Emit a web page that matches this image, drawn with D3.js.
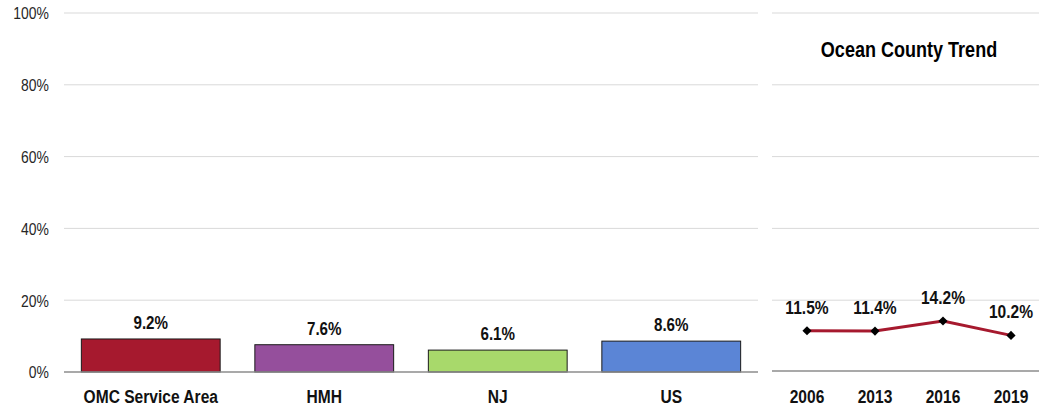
<!DOCTYPE html>
<html><head><meta charset="utf-8">
<script src="https://cdn.jsdelivr.net/npm/d3@7"></script>
<style>
body{margin:0;background:#fff;}
text{font-family:"Liberation Sans",Arial,sans-serif;}
</style></head>
<body><svg id="c" width="1039" height="408"></svg>
<script>
const categories = ["OMC Service Area","HMH","NJ","US"];
const values = [9.2, 7.6, 6.1, 8.6];
const barColors = ["#A6192E","#954F9C","#A8D96B","#5B85D6"];
const years = ["2006","2013","2016","2019"];
const trend = [11.5, 11.4, 14.2, 10.2];
const yTicks = [0,20,40,60,80,100];
const trendTitle = "Ocean County Trend";

const NARROW = 0.82;
const svg = d3.select("#c");
const y = d3.scaleLinear().domain([0,100]).range([372,13]);
const x = d3.scaleBand().domain(categories).range([64,758]).paddingInner(0.2).paddingOuter(0.1);
const x2 = d3.scaleBand().domain(years).range([773,1045]);
const cx2 = (i)=>x2(years[i])+x2.bandwidth()/2;

// gridlines
const grid = svg.append("g");
yTicks.filter(d=>d>0).forEach(t=>{
  grid.append("line").attr("x1",64).attr("x2",758).attr("y1",y(t)).attr("y2",y(t)).attr("stroke","#d9d9d9").attr("stroke-width",1);
  grid.append("line").attr("x1",772).attr("x2",1039).attr("y1",y(t)).attr("y2",y(t)).attr("stroke","#d9d9d9").attr("stroke-width",1);
});

// y axis labels
const ya = d3.axisLeft(y).tickValues(yTicks).tickFormat(d=>d+"%").tickSize(0).tickPadding(0);
const yg = svg.append("g").attr("transform","translate(49,0)").call(ya);
yg.select(".domain").remove();
yg.selectAll("text").attr("font-size",17).attr("fill","#262626").attr("font-family","Liberation Sans")
  .attr("x",0).attr("dy","0.35em").attr("transform",`scale(${NARROW},1)`);

// bars
svg.append("g").selectAll("rect").data(values).join("rect")
  .attr("x",(d,i)=>x(categories[i])).attr("width",x.bandwidth())
  .attr("y",d=>y(d)).attr("height",d=>y(0)-y(d))
  .attr("fill",(d,i)=>barColors[i]).attr("stroke","#1a1a1a").attr("stroke-width",1);

svg.append("g").selectAll("text").data(values).join("text")
  .attr("transform",(d,i)=>`translate(${x(categories[i])+x.bandwidth()/2},${y(d)-10}) scale(${NARROW},1)`)
  .attr("text-anchor","middle").attr("font-size",18.5).attr("font-weight","bold").attr("fill","#111")
  .text(d=>d.toFixed(1)+"%");

// baseline axes
svg.append("line").attr("x1",64).attr("x2",758).attr("y1",y(0)).attr("y2",y(0)).attr("stroke","#8c8c8c").attr("stroke-width",1.5);
svg.append("line").attr("x1",772).attr("x2",1039).attr("y1",y(0)-1).attr("y2",y(0)-1).attr("stroke","#8c8c8c").attr("stroke-width",1.5);

// category labels
const xa = d3.axisBottom(x).tickSize(0).tickPadding(0);
const xg = svg.append("g").attr("transform","translate(0,403)").call(xa);
xg.select(".domain").remove();
xg.selectAll("text").attr("font-size",19).attr("font-weight","bold").attr("fill","#111").attr("font-family","Liberation Sans")
  .attr("y",0).attr("dy","0").attr("transform",`scale(${NARROW},1)`);

const xa2 = d3.axisBottom(x2).tickSize(0).tickPadding(0);
const xg2 = svg.append("g").attr("transform","translate(0,403)").call(xa2);
xg2.select(".domain").remove();
xg2.selectAll("text").attr("font-size",19).attr("font-weight","bold").attr("fill","#111").attr("font-family","Liberation Sans")
  .attr("y",0).attr("dy","0").attr("transform",`scale(${NARROW},1)`);

// trend line
const line = d3.line().x((d,i)=>cx2(i)).y(d=>y(d));
svg.append("path").datum(trend).attr("d",line).attr("fill","none").attr("stroke","#A6192E").attr("stroke-width",3);
svg.append("g").selectAll("path").data(trend).join("path")
  .attr("d",d3.symbol().type(d3.symbolSquare).size(42))
  .attr("transform",(d,i)=>`translate(${cx2(i)},${y(d)}) rotate(45)`)
  .attr("fill","#000");
svg.append("g").selectAll("text").data(trend).join("text")
  .attr("transform",(d,i)=>`translate(${cx2(i)},${y(d)-17}) scale(${NARROW},1)`)
  .attr("text-anchor","middle").attr("font-size",19).attr("font-weight","bold").attr("fill","#111")
  .text(d=>d.toFixed(1)+"%");

svg.append("text").attr("transform",`translate(909,57) scale(${NARROW},1)`).attr("text-anchor","middle")
  .attr("font-size",22).attr("font-weight","bold").attr("fill","#000").text(trendTitle);
</script></body></html>
